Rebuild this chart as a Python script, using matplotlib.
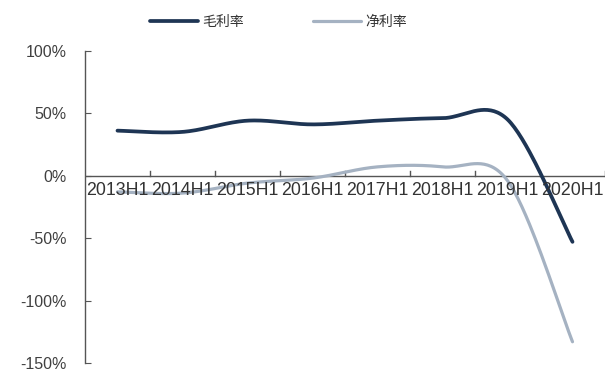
import numpy as np
import matplotlib
matplotlib.use("Agg")
import matplotlib.pyplot as plt
from matplotlib.ticker import FuncFormatter

plt.rcParams['font.family'] = ['Liberation Sans', 'Noto Sans CJK SC', 'DejaVu Sans']

categories = ["2013H1", "2014H1", "2015H1", "2016H1", "2017H1", "2018H1", "2019H1", "2020H1"]
gross_margin = [36, 35, 44, 41, 44, 46, 45, -53]
net_margin = [-13, -14, -6, -2, 7, 7, -4, -133]
series_names = ["毛利率", "净利率"]
yticks = [100, 50, 0, -50, -100, -150]

dark = "#1E3554"
light = "#A5B2C2"


def excel_smooth(y, n=40):
    x = np.arange(len(y), dtype=float)
    y = np.asarray(y, dtype=float)
    xs, ys = [], []
    N = len(y)
    for i in range(N - 1):
        p0 = np.array([x[max(i - 1, 0)], y[max(i - 1, 0)]])
        p1 = np.array([x[i], y[i]])
        p2 = np.array([x[i + 1], y[i + 1]])
        p3 = np.array([x[min(i + 2, N - 1)], y[min(i + 2, N - 1)]])
        c1 = p1 + (p2 - p0) / 6.0
        c2 = p2 - (p3 - p1) / 6.0
        t = np.linspace(0, 1, n)[:, None]
        pts = ((1 - t) ** 3) * p1 + 3 * ((1 - t) ** 2) * t * c1 + 3 * (1 - t) * t ** 2 * c2 + t ** 3 * p2
        xs.append(pts[:, 0])
        ys.append(pts[:, 1])
    return np.concatenate(xs), np.concatenate(ys)


fig = plt.figure(figsize=(6.06, 3.72), dpi=100)
ax = fig.add_axes([85 / 606, 1 - 363 / 372, (605 - 85) / 606, (363 - 50.7) / 372])

gx, gy = excel_smooth(gross_margin)
nx, ny = excel_smooth(net_margin)
ax.plot(nx, ny, color=light, lw=2.3, label=series_names[1], zorder=3, solid_capstyle='round')
ax.plot(gx, gy, color=dark, lw=2.7, label=series_names[0], zorder=4, solid_capstyle='round')

ax.set_xlim(-0.5, len(categories) - 0.5)
ax.set_ylim(-150, 100)
ax.set_yticks(yticks)
ax.yaxis.set_major_formatter(FuncFormatter(lambda v, p: f"{int(v)}%"))
ax.tick_params(axis='y', direction='in', length=4, color='#555555', labelsize=11.5,
               labelcolor='#404040', pad=13)

for s in ['top', 'right', 'bottom']:
    ax.spines[s].set_visible(False)
ax.spines['left'].set_color('#555555')
ax.spines['left'].set_linewidth(1.0)

# x-axis at zero
ax.axhline(0, color='#555555', lw=1.0, zorder=2)
ax.set_xticks([])
for i in range(1, len(categories) + 1):
    ax.plot([i - 0.5, i - 0.5], [0, 3.5], color='#555555', lw=1.0, zorder=2)
for i, c in enumerate(categories):
    ax.text(i, -5.0, c, ha='center', va='top', fontsize=12.8, color='#333333', zorder=5)

handles, labels = ax.get_legend_handles_labels()
order = [1, 0]
leg = fig.legend([handles[k] for k in order], [labels[k] for k in order],
                 loc='center', bbox_to_anchor=(0.46, 0.942), ncol=2, frameon=False,
                 handlelength=3.4, columnspacing=5.0, handletextpad=0.35,
                 prop={'family': ['Noto Sans CJK SC', 'DejaVu Sans'], 'size': 10})
for t in leg.get_texts():
    t.set_color('#333333')

fig.savefig("out.png", dpi=100)
